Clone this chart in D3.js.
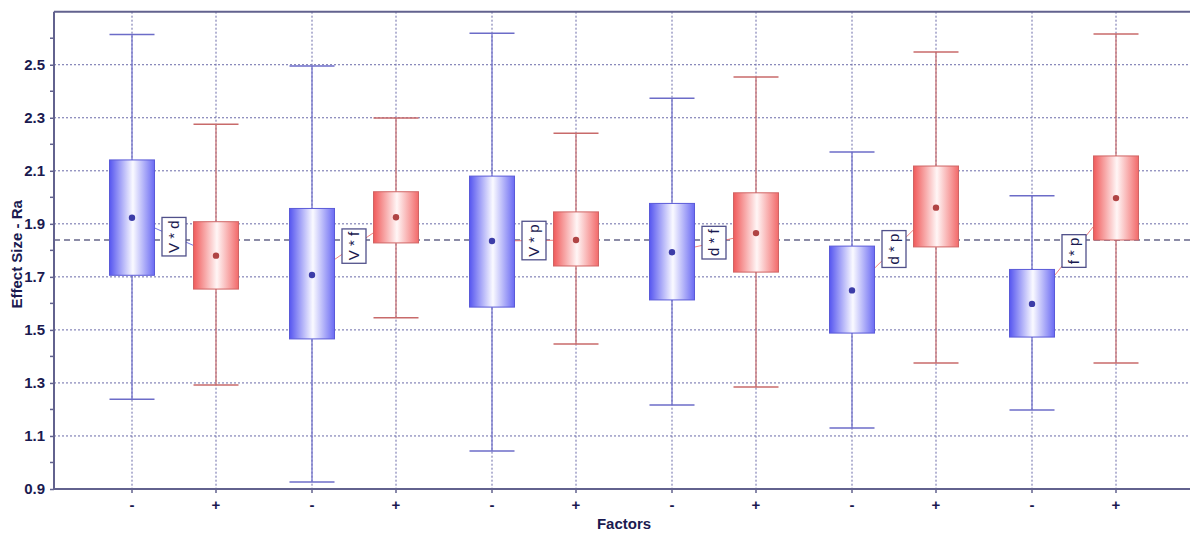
<!DOCTYPE html>
<html><head><meta charset="utf-8">
<script src="https://cdn.jsdelivr.net/npm/d3@7"></script>
<style>html,body{margin:0;padding:0;background:#fff;}svg{display:block;}</style>
</head><body><svg id="c" width="1190" height="533"></svg>
<script>
const factors = ["V * d", "V * f", "V * p", "d * f", "d * p", "f * p"];
const levels = ["-", "+"];
const yTickValues = [0.9, 1.1, 1.3, 1.5, 1.7, 1.9, 2.1, 2.3, 2.5];
const yMinorValues = [1.0, 1.2, 1.4, 1.6, 1.8, 2.0, 2.2, 2.4, 2.6];
const grandMean = 1.839;

// "-" level
const lowWhiskerLow  = [1.238, 0.926, 1.043, 1.217, 1.130, 1.198];
const lowQ1          = [1.706, 1.466, 1.586, 1.613, 1.488, 1.473];
const lowQ3          = [2.141, 1.958, 2.080, 1.977, 1.816, 1.728];
const lowWhiskerHigh = [2.614, 2.495, 2.619, 2.374, 2.171, 2.006];
const lowMean        = [1.923, 1.707, 1.835, 1.793, 1.649, 1.598];
// "+" level
const highWhiskerLow  = [1.292, 1.546, 1.447, 1.285, 1.375, 1.375];
const highQ1          = [1.654, 1.828, 1.741, 1.718, 1.813, 1.839];
const highQ3          = [1.908, 2.021, 1.945, 2.017, 2.118, 2.156];
const highWhiskerHigh = [2.276, 2.299, 2.242, 2.454, 2.548, 2.616];
const highMean        = [1.780, 1.925, 1.839, 1.865, 1.961, 1.997];

const svg = d3.select("#c");
const L = 54, R = 1195, T = 11.7, B = 489;
const navy = "#1a1a50";
const axisCol = "#62628e";
const gridCol = "#6a6aa8";

const y = d3.scaleLinear().domain([0.9, 2.7]).range([B, T]);
const xg = d3.scaleBand().domain(factors).range([84, 1164]);
const xi = d3.scalePoint().domain(levels).range([-42, 42]);
const xpos = (f, l) => xg(f) + xg.bandwidth() / 2 + xi(l);

const boxW = 45;

// gradients
const defs = svg.append("defs");
function grad(id, edgeL, mid, edgeR) {
  const g = defs.append("linearGradient").attr("id", id).attr("x1", "0%").attr("x2", "100%").attr("y1", "0%").attr("y2", "0%");
  g.append("stop").attr("offset", "0%").attr("stop-color", edgeL);
  g.append("stop").attr("offset", "52%").attr("stop-color", mid);
  g.append("stop").attr("offset", "100%").attr("stop-color", edgeR);
}
grad("gBlue", "#5656f0", "#fafaff", "#6a6af3");
grad("gRed", "#f05a5a", "#fff6f6", "#f26a6a");

// gridlines horizontal
svg.append("g").selectAll("line").data(yTickValues.slice(1)).join("line")
  .attr("x1", L).attr("x2", R).attr("y1", d => y(d)).attr("y2", d => y(d))
  .attr("stroke", gridCol).attr("stroke-width", 1).attr("stroke-dasharray", "2,2");

// gridlines vertical
const cats = [];
factors.forEach(f => levels.forEach(l => cats.push({f, l})));
svg.append("g").selectAll("line").data(cats).join("line")
  .attr("x1", d => xpos(d.f, d.l)).attr("x2", d => xpos(d.f, d.l)).attr("y1", T).attr("y2", B)
  .attr("stroke", gridCol).attr("stroke-width", 1).attr("stroke-dasharray", "2,2");

// grand mean dashed line
svg.append("line").attr("x1", L).attr("x2", R).attr("y1", y(grandMean)).attr("y2", y(grandMean))
  .attr("stroke", navy).attr("stroke-width", 1.2).attr("stroke-dasharray", "6,4");

// boxes data
const boxes = [];
factors.forEach((f, i) => {
  boxes.push({f, l: "-", lo: lowWhiskerLow[i], q1: lowQ1[i], q3: lowQ3[i], hi: lowWhiskerHigh[i], m: lowMean[i],
    fill: "url(#gBlue)", stroke: "#5a5ad8", wcol: "#6c6cc8", dot: "#3c3ca8"});
  boxes.push({f, l: "+", lo: highWhiskerLow[i], q1: highQ1[i], q3: highQ3[i], hi: highWhiskerHigh[i], m: highMean[i],
    fill: "url(#gRed)", stroke: "#d06464", wcol: "#c86a6a", dot: "#b04444"});
});

// interaction lines + labels (under boxes? lines between box edges)
const inter = svg.append("g");
factors.forEach((f, i) => {
  const x1 = xpos(f, "-"), x2 = xpos(f, "+");
  const y1 = y(lowMean[i]), y2 = y(highMean[i]);
  const slope = (y2 - y1) / (x2 - x1);
  const xa = x1 + boxW / 2, xb = x2 - boxW / 2;
  const col = highMean[i] >= lowMean[i] ? "#f08080" : "#7070e0";
  inter.append("line").attr("x1", xa).attr("y1", y1 + slope * (xa - x1))
    .attr("x2", xb).attr("y2", y1 + slope * (xb - x1)).attr("stroke", col).attr("stroke-width", 1);
});

const bg = svg.append("g");
boxes.forEach(b => {
  const cx = xpos(b.f, b.l);
  const g = bg.append("g");
  g.append("line").attr("x1", cx).attr("x2", cx).attr("y1", y(b.hi)).attr("y2", y(b.q3)).attr("stroke", b.wcol).attr("stroke-width", 1.2);
  g.append("line").attr("x1", cx).attr("x2", cx).attr("y1", y(b.q1)).attr("y2", y(b.lo)).attr("stroke", b.wcol).attr("stroke-width", 1.2);
  g.append("line").attr("x1", cx - boxW / 2).attr("x2", cx + boxW / 2).attr("y1", y(b.hi)).attr("y2", y(b.hi)).attr("stroke", b.wcol).attr("stroke-width", 1.5);
  g.append("line").attr("x1", cx - boxW / 2).attr("x2", cx + boxW / 2).attr("y1", y(b.lo)).attr("y2", y(b.lo)).attr("stroke", b.wcol).attr("stroke-width", 1.5);
  g.append("rect").attr("x", cx - boxW / 2).attr("y", y(b.q3)).attr("width", boxW).attr("height", y(b.q1) - y(b.q3))
    .attr("fill", b.fill).attr("stroke", b.stroke).attr("stroke-width", 1);
  g.append("circle").attr("cx", cx).attr("cy", y(b.m)).attr("r", 3.2).attr("fill", b.dot);
});

// interaction labels
const lab = svg.append("g");
factors.forEach((f, i) => {
  const mx = (xpos(f, "-") + xpos(f, "+")) / 2;
  const my = (y(lowMean[i]) + y(highMean[i])) / 2;
  const g = lab.append("g").attr("transform", `translate(${mx},${my}) rotate(-90)`);
  const rect = g.append("rect").attr("fill", "#fff").attr("stroke", "#50508a").attr("stroke-width", 1.3);
  const t = g.append("text").attr("text-anchor", "middle").attr("dy", "0.35em")
    .attr("font-family", "Liberation Sans, Arial, sans-serif").attr("font-size", 15).attr("fill", navy).text(f);
  const w = t.node().getComputedTextLength();
  rect.attr("x", -w / 2 - 3).attr("y", -12).attr("width", w + 6).attr("height", 24);
});

// axes
const yAxis = svg.append("g").attr("transform", `translate(${L},0)`)
  .call(d3.axisLeft(y).tickValues(yTickValues).tickFormat(d3.format(".1f")).tickSize(4).tickPadding(5));
yAxis.select(".domain").remove();
yAxis.selectAll(".tick line").attr("stroke", axisCol).attr("stroke-width", 1.5);
yAxis.selectAll("text").attr("font-family", "Liberation Sans, Arial, sans-serif").attr("font-size", 15)
  .attr("font-weight", "bold").attr("fill", navy);
svg.append("g").selectAll("line").data(yMinorValues).join("line")
  .attr("x1", L - 4).attr("x2", L).attr("y1", d => y(d)).attr("y2", d => y(d)).attr("stroke", axisCol).attr("stroke-width", 1.5);

const xAxisG = svg.append("g").attr("transform", `translate(0,${B})`);
xAxisG.selectAll("line").data(cats).join("line")
  .attr("x1", d => xpos(d.f, d.l)).attr("x2", d => xpos(d.f, d.l)).attr("y1", 0).attr("y2", 4)
  .attr("stroke", axisCol).attr("stroke-width", 1.5);
xAxisG.selectAll("text").data(cats).join("text")
  .attr("x", d => xpos(d.f, d.l)).attr("y", 21).attr("text-anchor", "middle")
  .attr("font-family", "Liberation Sans, Arial, sans-serif").attr("font-size", 15).attr("font-weight", "bold")
  .attr("fill", navy).text(d => d.l);

// frame lines
svg.append("line").attr("x1", L).attr("x2", L).attr("y1", T).attr("y2", B).attr("stroke", axisCol).attr("stroke-width", 2);
svg.append("line").attr("x1", L).attr("x2", R).attr("y1", B).attr("y2", B).attr("stroke", axisCol).attr("stroke-width", 2);
svg.append("line").attr("x1", L).attr("x2", R).attr("y1", T).attr("y2", T).attr("stroke", axisCol).attr("stroke-width", 2);

// titles
svg.append("text").attr("x", 624).attr("y", 529).attr("text-anchor", "middle")
  .attr("font-family", "Liberation Sans, Arial, sans-serif").attr("font-size", 15).attr("font-weight", "bold")
  .attr("fill", navy).text("Factors");
svg.append("text").attr("transform", `translate(22,${(T + B) / 2 + 4}) rotate(-90)`).attr("text-anchor", "middle")
  .attr("font-family", "Liberation Sans, Arial, sans-serif").attr("font-size", 15).attr("font-weight", "bold")
  .attr("fill", navy).text("Effect Size - Ra");
</script></body></html>
